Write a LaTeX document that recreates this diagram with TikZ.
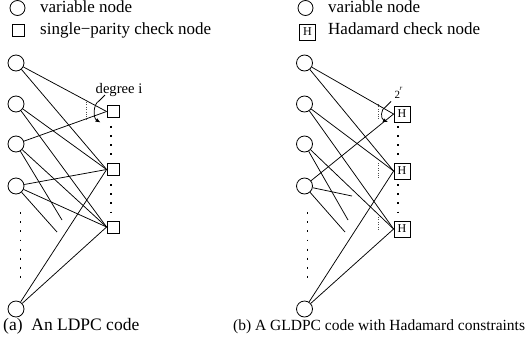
\documentclass[tikz,border=0pt]{standalone}
\usepackage{fontspec}
\setmainfont{Liberation Serif}
\usetikzlibrary{arrows.meta}
\begin{document}
\begin{tikzpicture}[x=1pt,y=-1pt,
  vnode/.style={circle,draw,line width=0.8pt,minimum size=16pt,inner sep=0pt},
  pcheck/.style={rectangle,draw,line width=0.8pt,minimum size=12pt,inner sep=0pt},
  hcheck/.style={rectangle,draw,line width=0.8pt,minimum size=16pt,inner sep=0pt,
    font=\fontsize{12}{12}\selectfont},
  edge/.style={line width=0.75pt},
  vdots/.style={line width=1.9pt,dash pattern=on 1.9pt off 7.2pt},
  gdots/.style={line width=0.8pt,black!70,dash pattern=on 0.8pt off 1.6pt},
  legend/.style={anchor=base west,inner sep=0pt,font=\fontsize{17}{17}\selectfont},
  degarrow/.style={line width=0.75pt,-{Latex[length=5pt,width=4pt]}}
]
\useasboundingbox (0,0) rectangle (526,351);

% ---------- legend ----------
\node[vnode,minimum size=15pt] (lvar) at (17.5,8) {};
\node[legend] (lvartext) at (40,12) {variable node};
\node[pcheck,minimum size=11.5pt] (lchk) at (18.3,30.5) {};
\node[legend] (lchktext) at (40,34.5) {single−parity check node};

\node[vnode,minimum size=15pt] (rvar) at (305.5,8) {};
\node[legend] (rvartext) at (328,12) {variable node};
\node[hcheck] (rchk) at (307.5,32) {H};
\node[legend] (rchktext) at (328,34.5) {Hadamard check node};

% ---------- (a) LDPC code ----------
\node[vnode] (a1) at (16,63) {};
\node[vnode] (a2) at (16,104) {};
\node[vnode] (a3) at (16,144) {};
\node[vnode] (a4) at (16,186) {};
\node[vnode] (a5) at (16,309) {};
\node[pcheck] (ca1) at (113,111.5) {};
\node[pcheck] (ca2) at (113,169.5) {};
\node[pcheck] (ca3) at (113,227) {};
\coordinate (da3) at (62,220);
\coordinate (da4) at (57,232);

\draw[edge] (a1) -- (ca1.west);
\draw[edge] (a1) -- (ca2.west);
\draw[edge] (a2) -- (ca2.west);
\draw[edge] (a2) -- (ca3.west);
\draw[edge] (a3) -- (ca1.west);
\draw[edge] (a3) -- (da3);
\draw[edge] (a3) -- (ca3.west);
\draw[edge] (a4) -- (ca2.west);
\draw[edge] (a4) -- (da4);
\draw[edge] (a4) -- (ca3.west);
\draw[edge] (a5) -- (ca2.west);
\draw[edge] (a5) -- (ca3.west);

\draw[vdots] (20.5,212.2) -- (20.5,278);
\draw[vdots] (111,125.9) -- (111,156);
\draw[vdots] (111,184.2) -- (111,214);
\draw[gdots] (86,102) -- (86,121);

% degree annotation
\coordinate (ka0) at (99,101);
\coordinate (ka1) at (100.5,122.5);
\coordinate (ka2) at (105,95);
\draw[degarrow] (ka0) .. controls (93,104) and (93,118) .. (ka1);
\draw[edge] (ka0) -- (ka2);
\node[anchor=base west,inner sep=0pt,font=\fontsize{14.6}{15}\selectfont] (dega) at (95.5,93) {degree i};

% ---------- (b) GLDPC code ----------
\node[vnode] (b1) at (304.5,63) {};
\node[vnode] (b2) at (304.5,104) {};
\node[vnode] (b3) at (304.5,144) {};
\node[vnode] (b4) at (304.5,186) {};
\node[vnode] (b5) at (304.5,309) {};
\node[hcheck] (hb1) at (402,114) {H};
\node[hcheck] (hb2) at (402,171) {H};
\node[hcheck] (hb3) at (402,229) {H};
\coordinate (db3) at (348,220);
\coordinate (db4) at (352,196);
\coordinate (db4b) at (345,232);

\draw[edge] (b1) -- (hb1.west);
\draw[edge] (b1) -- (hb2.west);
\draw[edge] (b2) -- (hb2.west);
\draw[edge] (b2) -- (hb3.west);
\draw[edge] (b3) -- (hb3.west);
\draw[edge] (b3) -- (db3);
\draw[edge] (b4) -- (hb1.west);
\draw[edge] (b4) -- (db4);
\draw[edge] (b4) -- (db4b);
\draw[edge] (b5) -- (hb2.west);
\draw[edge] (b5) -- (hb3.west);

\draw[vdots] (307.5,212.2) -- (307.5,278);
\draw[vdots] (398,125.9) -- (398,156);
\draw[vdots] (398,184.2) -- (398,214);
\draw[gdots] (378,104) -- (378,120);
\draw[gdots] (378,163) -- (378,178);
\draw[gdots] (378,217) -- (378,231);

% degree annotation
\coordinate (kb0) at (385.5,107);
\coordinate (kb1) at (388,122);
\coordinate (kb2) at (391,101.5);
\draw[degarrow] (kb0) .. controls (380.5,109) and (380.5,119) .. (kb1);
\draw[edge] (kb0) -- (kb2);
\node[anchor=base west,inner sep=0pt,font=\fontsize{11}{11}\selectfont] (degb) at (394.3,98.3)
  {2\kern-0.3pt\raisebox{8pt}{\fontsize{7}{7}\selectfont\itshape r}};

% ---------- captions ----------
\node[anchor=base west,inner sep=0pt,font=\fontsize{17.5}{18}\selectfont] (capa) at (3,330) {(a)\ \ An LDPC code};
\node[anchor=base west,inner sep=0pt,font=\fontsize{15.5}{16}\selectfont] (capb) at (233,330) {(b) A GLDPC code with Hadamard constraints};
\end{tikzpicture}
\end{document}
